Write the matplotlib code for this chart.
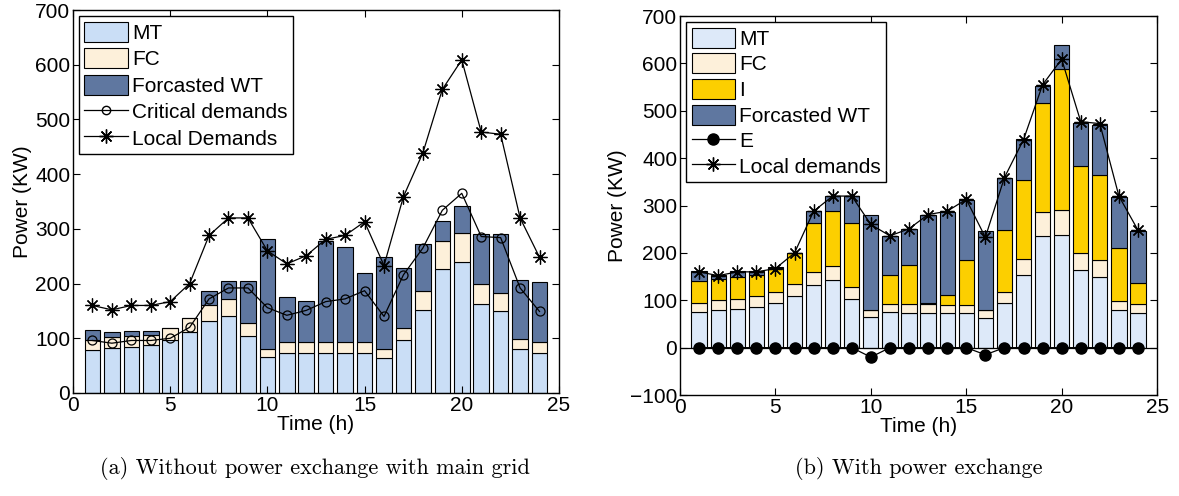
import matplotlib
matplotlib.use('Agg')
import matplotlib.pyplot as plt
from matplotlib.patches import Patch
from matplotlib.lines import Line2D
import numpy as np

plt.rcParams['font.family'] = ['Liberation Sans', 'DejaVu Sans']

hours = np.arange(1, 25)

# (a) without power exchange
mt_a = [79, 82, 84, 88, 96, 111, 132, 141, 105, 65, 74, 74, 74, 74, 74, 64,
        96, 152, 226, 239, 163, 149, 80, 74]
fc_a = [18, 20, 21, 18, 23, 26, 29, 31, 23, 16, 19, 19, 19, 19, 19, 16,
        23, 35, 52, 53, 36, 34, 19, 19]
wt_a = [19, 9, 9, 8, 0, 0, 25, 32, 77, 200, 82, 76, 185, 174, 126, 168,
        110, 85, 37, 50, 92, 107, 108, 110]
critical = [96, 91, 96, 96, 100, 120, 172, 192, 192, 156, 142, 151, 167, 172,
            187, 140, 216, 265, 334, 365, 286, 284, 192, 149]
local = [160, 152, 160, 160, 167, 200, 288, 320, 320, 260, 236, 251, 281, 288,
         313, 233, 359, 439, 555, 609, 477, 473, 320, 248]

# (b) with power exchange
mt_b = [75, 80, 82, 86, 95, 110, 132, 142, 103, 65, 75, 74, 74, 73, 73, 63,
        95, 153, 235, 238, 164, 150, 80, 74]
fc_b = [20, 20, 21, 22, 22, 24, 28, 30, 25, 15, 18, 18, 19, 18, 18, 17,
        23, 35, 52, 53, 35, 34, 19, 18]
i_b = [46, 44, 46, 46, 51, 66, 103, 117, 135, 0, 61, 82, 2, 21, 93, 0,
       130, 166, 229, 298, 184, 181, 112, 44]
wt_b = [20, 9, 12, 7, 2, 0, 26, 31, 57, 201, 82, 77, 184, 175, 127, 166,
        111, 86, 36, 50, 92, 106, 107, 110]
exch = [0, 0, 0, 0, 0, 0, 0, 0, 0, -20, 0, 0, 0, 0, 0, -15,
        0, 0, 0, 0, 0, 0, 0, 0]

c_mt_a = '#cadef6'
c_mt_b = '#dde9f9'
c_fc = '#fdf0da'
c_i = '#fccf00'
c_wt = '#5f77a0'
star = (8, 2, 0)

fig = plt.figure(figsize=(11.79, 4.96), dpi=100)
ax1 = fig.add_axes([0.0619, 0.2077, 0.4122, 0.772])
ax2 = fig.add_axes([0.5768, 0.2036, 0.4046, 0.764])

bw = 0.8
ek = dict(edgecolor='black', linewidth=0.8)

# left chart
ax1.bar(hours, mt_a, bw, color=c_mt_a, **ek)
ax1.bar(hours, fc_a, bw, bottom=mt_a, color=c_fc, **ek)
ax1.bar(hours, wt_a, bw, bottom=np.add(mt_a, fc_a), color=c_wt, **ek)
ax1.plot(hours, critical, '-o', color='black', lw=0.9, ms=6.5,
         mfc='none', mew=0.9)
ax1.plot(hours, local, '-', marker=star, color='black', lw=0.9, ms=10, mew=0.9)
ax1.set_xlim(0, 25)
ax1.set_ylim(0, 700)
ax1.set_yticks(np.arange(0, 701, 100))
ax1.set_xticks(np.arange(0, 26, 5))
ax1.set_xlabel('Time (h)', fontsize=15, labelpad=0)
ax1.set_ylabel('Power (KW)', fontsize=15, labelpad=2)

h1 = [Patch(facecolor=c_mt_a, edgecolor='black', lw=0.8),
      Patch(facecolor=c_fc, edgecolor='black', lw=0.8),
      Patch(facecolor=c_wt, edgecolor='black', lw=0.8),
      Line2D([], [], color='black', lw=0.9, marker='o', ms=6, mfc='none'),
      Line2D([], [], color='black', lw=0.9, marker=star, ms=10)]
l1 = ['MT', 'FC', 'Forcasted WT', 'Critical demands', 'Local Demands']
leg1 = ax1.legend(h1, l1, loc='upper left', fontsize=15, fancybox=False,
                  edgecolor='black', framealpha=1, borderpad=0.25,
                  labelspacing=0.26, handletextpad=0.2, handlelength=2.1,
                  handleheight=1.1, borderaxespad=0.3)
leg1.get_frame().set_linewidth(1.0)

# right chart
b1 = np.add(mt_b, fc_b)
b2 = b1 + np.array(i_b)
ax2.bar(hours, mt_b, bw, color=c_mt_b, **ek)
ax2.bar(hours, fc_b, bw, bottom=mt_b, color=c_fc, **ek)
ax2.bar(hours, i_b, bw, bottom=b1, color=c_i, **ek)
ax2.bar(hours, wt_b, bw, bottom=b2, color=c_wt, **ek)
ax2.axhline(0, color='black', lw=0.9)
ax2.plot(hours, exch, '-o', color='black', lw=0.9, ms=8)
ax2.plot(hours, local, '-', marker=star, color='black', lw=0.9, ms=10, mew=0.9)
ax2.set_xlim(0, 25)
ax2.set_ylim(-100, 700)
ax2.set_yticks(np.arange(-100, 701, 100))
ax2.set_yticklabels(['\u2212100'] + [str(v) for v in range(0, 701, 100)])
ax2.set_xticks(np.arange(0, 26, 5))
ax2.set_xlabel('Time (h)', fontsize=15, labelpad=0)
ax2.set_ylabel('Power (KW)', fontsize=15, labelpad=2)

h2 = [Patch(facecolor=c_mt_b, edgecolor='black', lw=0.8),
      Patch(facecolor=c_fc, edgecolor='black', lw=0.8),
      Patch(facecolor=c_i, edgecolor='black', lw=0.8),
      Patch(facecolor=c_wt, edgecolor='black', lw=0.8),
      Line2D([], [], color='black', lw=0.9, marker='o', ms=8),
      Line2D([], [], color='black', lw=0.9, marker=star, ms=10)]
l2 = ['MT', 'FC', 'I', 'Forcasted WT', 'E', 'Local demands']
leg2 = ax2.legend(h2, l2, loc='upper left', fontsize=15, fancybox=False,
                  edgecolor='black', framealpha=1, borderpad=0.25,
                  labelspacing=0.22, handletextpad=0.2, handlelength=2.1,
                  handleheight=1.1, borderaxespad=0.3)
leg2.get_frame().set_linewidth(1.0)

for ax in (ax1, ax2):
    ax.tick_params(direction='in', top=True, right=True, labelsize=15,
                   length=5, width=0.8, pad=2)
    for s in ax.spines.values():
        s.set_linewidth(1.0)

fig.text(0.267, 0.045, '(a) Without power exchange with main grid',
         family=['cmr10', 'DejaVu Serif'], fontsize=16, ha='center')
fig.text(0.779, 0.045, '(b) With power exchange',
         family=['cmr10', 'DejaVu Serif'], fontsize=16, ha='center')

fig.savefig('out.png', dpi=100)
